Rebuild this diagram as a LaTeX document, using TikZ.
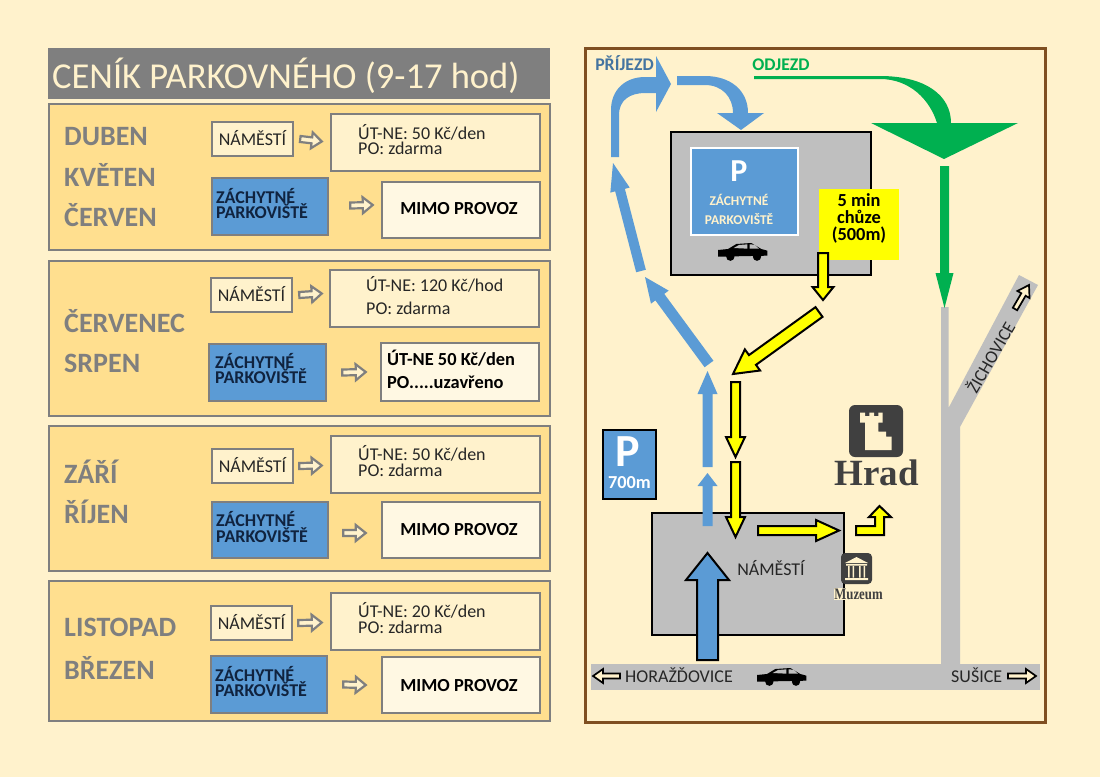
\documentclass[tikz,border=0pt]{standalone}
\usepackage{fontspec}
\setmainfont{Carlito}
\newfontfamily\serifh{Liberation Serif}
\usetikzlibrary{calc,fit}
\definecolor{bgc}{HTML}{FFF2CC}
\definecolor{panelc}{HTML}{FFDF8F}
\definecolor{grayc}{HTML}{7F7F7F}
\definecolor{bluec}{HTML}{5B9BD5}
\definecolor{greenc}{HTML}{00B050}
\definecolor{yelc}{HTML}{FFFF00}
\definecolor{roadc}{HTML}{BFBFBF}
\definecolor{darkc}{HTML}{404040}
\definecolor{brownc}{HTML}{7F4F21}
\definecolor{navyc}{HTML}{10233F}
\newcommand{\fsz}[1]{\fontsize{#1}{#1}\selectfont}
\tikzset{
  panelbox/.style={draw=grayc,line width=2.5pt,fill=panelc},
  creambox/.style={draw=grayc,line width=2.5pt,fill=bgc},
  bluebox/.style={draw=grayc,line width=2.5pt,fill=bluec},
  whitebox/.style={draw=grayc,line width=2.5pt,fill=bgc!55!white},
  monthtxt/.style={anchor=base west,text=grayc,font=\fsz{28}\bfseries,inner sep=0pt},
  smalltxt/.style={anchor=base,text=black!85,font=\fsz{18},inner sep=0pt},
  pricetxt/.style={anchor=base west,text=black!85,font=\fsz{18},inner sep=0pt},
  zachtxt/.style={anchor=base west,text=navyc,font=\fsz{18}\bfseries,inner sep=0pt},
  boldtxt/.style={anchor=base,text=black,font=\fsz{18.4}\bfseries,inner sep=0pt},
  walktxt/.style={anchor=base,text=black,font=\fsz{18.4}\bfseries,inner sep=0pt},
  tablearrow/.style={draw=grayc,line width=2.2pt,fill=bgc},
  bluearrow/.style={fill=bluec},
  yelarrow/.style={draw=black,line width=2pt,fill=yelc},
  roadarrow/.style={draw=black,line width=1.7pt,fill=bgc},
  lot/.style={draw=black,line width=2pt,fill=roadc},
  maptxt/.style={text=black!85,font=\fsz{18},inner sep=0pt}
}
% block arrow: style, from, to, half shaft, half head, head length
\newcommand{\BA}[6][]{%
  \coordinate (BAa) at (#2);
  \coordinate (BAb) at (#3);
  \coordinate (BAh) at ($(BAb)!#6pt!(BAa)$);
  \path[#1] ($(BAa)!#4pt!90:(BAb)$) -- ($(BAh)!#4pt!90:(BAb)$) -- ($(BAh)!#5pt!90:(BAb)$)
    -- (BAb) -- ($(BAh)!#5pt!-90:(BAb)$) -- ($(BAh)!#4pt!-90:(BAb)$) -- ($(BAa)!#4pt!-90:(BAb)$) -- cycle;
}
% rectangular node from two corners
\newcommand{\BX}[6]{\node[#1,fit={(#3,#4)(#5,#6)},inner sep=0pt] (#2) {};}
% car: top-left corner, fill of the windows
\newcommand{\carshape}[3]{%
  \begin{scope}[shift={(#1,#2)},scale=1/3]
    \fill[black] (0,21) -- (30,18) -- (55,3) -- (100,0) -- (130,18) -- (148,23) -- (148,38) -- (0,41) -- cycle;
    \fill[black] (37,41) circle (12.5) (117,41) circle (12.5);
    \fill[#3] (47,15) -- (63,6) -- (88,4) -- (88,17) -- cycle;
    \fill[#3] (95,4) -- (110,5) -- (123,17) -- (95,17) -- cycle;
  \end{scope}}
\begin{document}
\begin{tikzpicture}[x=1pt,y=-1pt]
\useasboundingbox (0,0) rectangle (1100,777);
\fill[bgc] (0,0) rectangle (1100,777);

% ---- title
\BX{fill=grayc}{title}{48}{48}{550}{99}
\node[text=bgc,font=\fsz{36.5},inner sep=0pt,anchor=base west] (titletxt) at (52,88) {CENÍK PARKOVNÉHO (9-17 hod)};

% ---- panel 1
\BX{panelbox}{p1}{49}{104}{550}{250}
\node[monthtxt] (m1a) at (64,145) {DUBEN};
\node[monthtxt] (m1b) at (64,186) {KVĚTEN};
\node[monthtxt] (m1c) at (64,226) {ČERVEN};
\BX{creambox}{n1}{212}{122}{293}{156}
\node[smalltxt] (n1t) at ($(n1.center)+(0,6)$) {NÁMĚSTÍ};
\BX{creambox}{c1}{331}{114}{540}{171}
\node[pricetxt] (c1a) at (358,139) {ÚT-NE: 50 Kč/den};
\node[pricetxt] (c1b) at (358,154) {PO: zdarma};
\BX{bluebox}{z1}{212}{178}{328}{235}
\node[zachtxt] (z1a) at (216,203) {ZÁCHYTNÉ};
\node[zachtxt] (z1b) at (216,218) {PARKOVIŠTĚ};
\BX{whitebox}{w1}{382}{182}{540}{238}
\node[boldtxt] (w1t) at (459,214) {MIMO PROVOZ};
\BA[tablearrow]{$(n1.east)+(6,0)$}{$(c1.west)+(-8,-1)$}{3}{8}{10}
\BA[tablearrow]{$(z1.east)+(21,-1)$}{$(w1.west)+(-8,-5)$}{3}{8}{10}

% ---- panel 2
\BX{panelbox}{p2}{49}{261}{550}{416}
\node[monthtxt] (m2a) at (64,332) {ČERVENEC};
\node[monthtxt] (m2b) at (64,372) {SRPEN};
\BX{creambox}{n2}{211}{278}{292}{312}
\node[smalltxt] (n2t) at ($(n2.center)+(0,6)$) {NÁMĚSTÍ};
\BX{creambox}{c2}{330}{270}{539}{327}
\node[pricetxt] (c2a) at (366,291) {ÚT-NE: 120 Kč/hod};
\node[pricetxt] (c2b) at (366,314) {PO: zdarma};
\BX{bluebox}{z2}{209}{344}{326}{401}
\node[zachtxt] (z2a) at (215,368) {ZÁCHYTNÉ};
\node[zachtxt] (z2b) at (215,383) {PARKOVIŠTĚ};
\BX{whitebox}{w2}{381}{343}{539}{401}
\node[boldtxt,anchor=base west] (w2a) at (387,365) {ÚT-NE 50 Kč/den};
\node[boldtxt,anchor=base west] (w2b) at (387,388) {PO.....uzavřeno};
\BA[tablearrow]{$(n2.east)+(6,0)$}{$(c2.west)+(-7,-5)$}{3}{8}{10}
\BA[tablearrow]{$(z2.east)+(15,0)$}{$(w2.west)+(-14,0)$}{3}{8}{10}

% ---- panel 3
\BX{panelbox}{p3}{49}{426}{550}{571}
\node[monthtxt] (m3a) at (64,483) {ZÁŘÍ};
\node[monthtxt] (m3b) at (64,523) {ŘÍJEN};
\BX{creambox}{n3}{212}{449}{293}{483}
\node[smalltxt] (n3t) at ($(n3.center)+(0,6)$) {NÁMĚSTÍ};
\BX{creambox}{c3}{331}{436}{540}{493}
\node[pricetxt] (c3a) at (358,460) {ÚT-NE: 50 Kč/den};
\node[pricetxt] (c3b) at (358,476) {PO: zdarma};
\BX{bluebox}{z3}{212}{502}{328}{558}
\node[zachtxt] (z3a) at (216,526) {ZÁCHYTNÉ};
\node[zachtxt] (z3b) at (216,542) {PARKOVIŠTĚ};
\BX{whitebox}{w3}{382}{502}{540}{558}
\node[boldtxt] (w3t) at (459,535) {MIMO PROVOZ};
\BA[tablearrow]{$(n3.east)+(5,0)$}{$(c3.west)+(-8,1)$}{3}{8}{10}
\BA[tablearrow]{$(z3.east)+(14,3)$}{$(w3.west)+(-15,3)$}{3}{8}{10}

% ---- panel 4
\BX{panelbox}{p4}{49}{581}{550}{721}
\node[monthtxt] (m4a) at (64,636) {LISTOPAD};
\node[monthtxt] (m4b) at (64,679) {BŘEZEN};
\BX{creambox}{n4}{211}{606}{292}{640}
\node[smalltxt] (n4t) at ($(n4.center)+(0,6)$) {NÁMĚSTÍ};
\BX{creambox}{c4}{331}{593}{540}{650}
\node[pricetxt] (c4a) at (358,617) {ÚT-NE: 20 Kč/den};
\node[pricetxt] (c4b) at (358,633) {PO: zdarma};
\BX{bluebox}{z4}{211}{656}{327}{713}
\node[zachtxt] (z4a) at (215,681) {ZÁCHYTNÉ};
\node[zachtxt] (z4b) at (215,696) {PARKOVIŠTĚ};
\BX{whitebox}{w4}{382}{657}{540}{713}
\node[boldtxt] (w4t) at (459,691) {MIMO PROVOZ};
\BA[tablearrow]{$(n4.east)+(5,0)$}{$(c4.west)+(-8,1)$}{3}{8}{10}
\BA[tablearrow]{$(z4.east)+(15,0)$}{$(w4.west)+(-15,0)$}{3}{8}{10}

% ---- map frame
\draw[brownc,line width=3pt] (585.5,48) rectangle (1045.5,722);

% roads
\fill[roadc] (591,664) rectangle (1040,690);
\fill[roadc] (941,307) -- (948.5,307) -- (948.5,408) -- (1019,275) -- (1038,285) -- (960,427) -- (960,665) -- (941,665) -- cycle;
\node[maptxt,rotate=60] (zich) at (990,357) {ŽICHOVICE};
\BA[roadarrow]{1015,309}{1029,285}{2.5}{7}{11}
\node[maptxt,anchor=base west] (hora) at (625,682) {HORAŽĎOVICE};
\node[maptxt,anchor=base west] (sus) at (951,682) {SUŠICE};
\BA[roadarrow]{620,676}{593,676}{2.5}{7}{10}
\BA[roadarrow]{1008,676}{1036,676}{2.5}{7}{10}
\carshape{757}{668}{roadc}

% parking lot
\BX{lot}{zach}{671}{132}{871}{275}
\BX{draw=white,line width=2pt,fill=bluec}{sign}{691}{148}{798}{235}
\node[text=white,font=\fsz{32}\bfseries,inner sep=0pt] (signp) at (739,171) {P};
\node[text=bgc,font=\fsz{13.4}\bfseries,inner sep=0pt,anchor=base] (signa) at (739,205) {ZÁCHYTNÉ};
\node[text=bgc,font=\fsz{13.4}\bfseries,inner sep=0pt,anchor=base] (signb) at (739,224) {PARKOVIŠTĚ};
\carshape{718}{243}{roadc}
\BX{fill=yelc}{walk}{819}{189}{899}{260}
\node[walktxt] (walka) at (859,206) {5 min};
\node[walktxt] (walkb) at (859,223) {chůze};
\node[walktxt] (walkc) at (859,240) {(500m)};

% square
\BX{lot}{nam}{652}{513}{844}{635}
\node[maptxt,anchor=base] (namt) at (771,575) {NÁMĚSTÍ};

% blue route
\fill[bluec] (611,157) -- (611,110) .. controls (611,90) and (625,77) .. (645,77) -- (656,77) -- (656,56) -- (671,84) -- (656,112) -- (656,93) -- (645,93) .. controls (630,93) and (619,100) .. (619,115) -- (619,157) -- cycle;
\fill[bluec] (677,76) -- (705,76) .. controls (730,76) and (748,90) .. (748,113) -- (764,113) -- (741,130) -- (717,113) -- (733,113) .. controls (733,97) and (722,85) .. (705,85) -- (677,85) -- cycle;
\BA[bluearrow]{641,271}{613,163}{5}{10}{28}
\BA[bluearrow]{709,364}{645,277}{5.5}{11}{25}
\BA[bluearrow]{707.5,467}{707.5,371}{5}{10}{23}
\BA[bluearrow]{707.5,526}{707.5,473}{5}{10}{13}
\BA[draw=black,line width=2pt,fill=bluec]{707.5,660}{707.5,553}{10.5}{21.5}{27}
\node[text=bluec!75!black,font=\fsz{17.8}\bfseries,inner sep=0pt,anchor=base] (arr) at (624.5,70) {PŘÍJEZD};

% green route
\fill[greenc] (754,76) -- (880,76) .. controls (925,76) and (951,95) .. (951,123) -- (1018,123) -- (944,159) -- (871,123) -- (937,123) .. controls (930,100) and (910,79) .. (880,79) -- (754,79) -- cycle;
\BA[fill=greenc]{944.5,166}{944.5,308}{4.5}{9}{35}
\node[text=greenc,font=\fsz{17.8}\bfseries,inner sep=0pt,anchor=base] (dep) at (781,70) {ODJEZD};

% yellow route
\BA[yelarrow]{823,253}{823,300}{5}{10.5}{13}
\BA[yelarrow]{819,312}{733,374}{6}{13}{24}
\BA[yelarrow]{735.5,382}{735.5,457}{4.5}{9.5}{20}
\BA[yelarrow]{735.5,462}{735.5,537}{4.5}{9.5}{20}
\BA[yelarrow]{758,530.5}{839,530.5}{4.5}{10.5}{23}
\path[yelarrow] (856,526) -- (875,526) -- (875,517) -- (869,517) -- (879.5,506) -- (891,517) -- (884,517) -- (884,535) -- (856,535) -- cycle;

% P 700m
\BX{draw=black,line width=2pt,fill=bluec}{pk}{603}{430}{656}{499}
\node[text=white,font=\fsz{46}\bfseries,inner sep=0pt] (pkp) at (628,452) {P};
\node[text=white,font=\fsz{18.3}\bfseries,inner sep=0pt,anchor=base] (pkm) at (629.5,488) {700m};

% castle
\fill[darkc,rounded corners=6pt] (849,405) rectangle (903,457);
\begin{scope}[shift={(810,390)},scale=1/3]
  \fill[bgc] (150,68) -- (165,68) -- (165,78) -- (178,78) -- (178,68) -- (192,68) -- (192,78) -- (205,78) -- (205,68) -- (218,68) -- (218,98) -- (205,98) -- (205,125) -- (228,125) -- (228,140) -- (245,140) -- (245,180) -- (165,180) -- (165,98) -- (150,98) -- cycle;
\end{scope}
\node[text=darkc,font=\serifh\fsz{37}\bfseries,inner sep=0pt] (hrad) at (876.5,473) {Hrad};

% museum
\fill[darkc,rounded corners=4pt] (841,553) rectangle (872,584);
\fill[bgc] (856.5,557) -- (868,563) -- (845,563) -- cycle;
\fill[bgc] (846,564) rectangle (867,565.5) (845,578) rectangle (868,580);
\fill[bgc] (848,566) rectangle (849.5,577.5) (852.5,566) rectangle (854,577.5) (859,566) rectangle (860.5,577.5) (863.5,566) rectangle (865,577.5);
\node[fill=bgc,text=darkc,font=\serifh\fsz{16}\bfseries,inner sep=0.5pt] (muz) at (858.5,594) {\scalebox{0.8}[1]{Muzeum}};
\end{tikzpicture}
\end{document}
